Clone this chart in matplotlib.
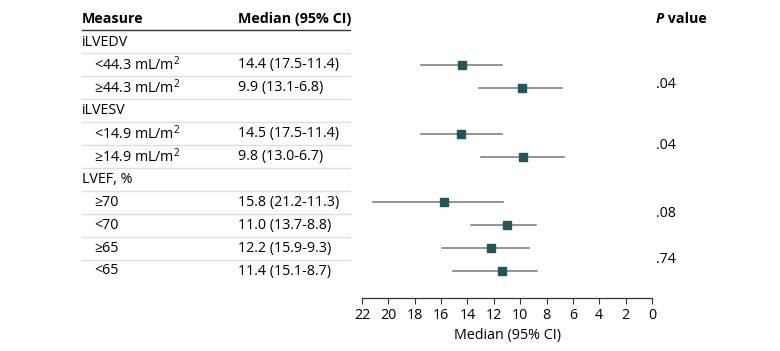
import numpy as np
import matplotlib
matplotlib.use('Agg')
import matplotlib.pyplot as plt
from matplotlib.transforms import blended_transform_factory

plt.rcParams['font.family'] = ['Open Sans', 'DejaVu Sans']
plt.rcParams['mathtext.fontset'] = 'custom'
plt.rcParams['mathtext.rm'] = 'Open Sans'

# table rows (group headers have no estimate)
labels = ['iLVEDV', '<44.3 mL/m$^2$', '\u226544.3 mL/m$^2$',
          'iLVESV', '<14.9 mL/m$^2$', '\u226514.9 mL/m$^2$',
          'LVEF, %', '\u226570', '<70', '\u226565', '<65']
is_group = [True, False, False, True, False, False, True, False, False, False, False]
median = [np.nan, 14.4, 9.9, np.nan, 14.5, 9.8, np.nan, 15.8, 11.0, 12.2, 11.4]
ci_high = [np.nan, 17.5, 13.1, np.nan, 17.5, 13.0, np.nan, 21.2, 13.7, 15.9, 15.1]
ci_low = [np.nan, 11.4, 6.8, np.nan, 11.4, 6.7, np.nan, 11.3, 8.8, 9.3, 8.7]
p_values = ['.04', '.04', '.08', '.74']
p_rows = [1.85, 4.5, 7.5, 9.5]
xticks = list(range(0, 23, 2))

W, H = 780, 351
fig = plt.figure(figsize=(W / 100, H / 100), dpi=100)
ax = fig.add_axes([362 / W, 1 - 298 / H, (652 - 362) / W, 298 / H])

step = 22.9
ax.set_ylim((298 - 42) / step, -42 / step)
ax.set_xlim(22, 0)

rows = np.arange(len(labels))
mcol = '#22575a'
for i in rows:
    if np.isnan(median[i]):
        continue
    ax.plot([ci_low[i], ci_high[i]], [i, i], color='#767676', lw=1.1, zorder=2)
    ax.plot(median[i], i, marker='s', ms=6.3, color=mcol, mec=mcol, zorder=3)

for s in ['top', 'right', 'left']:
    ax.spines[s].set_visible(False)
ax.spines['bottom'].set_color('#333333')
ax.spines['bottom'].set_linewidth(0.9)
ax.set_yticks([])
ax.set_xticks(xticks)
ax.tick_params(axis='x', length=4, width=0.8, color='#333333', labelsize=10.3, pad=3)
ax.set_xlabel('Median (95% CI)', fontsize=10.3, labelpad=4)
ax.patch.set_alpha(0)

tr = blended_transform_factory(fig.transFigure, ax.transData)
x_meas = 82 / W
x_sub = 94 / W
x_med = 238 / W
x_end = 350 / W
x_p = 656 / W
fs = 10.3

# header
ax.text(x_meas, -1, 'Measure', transform=tr, fontsize=fs, fontweight='bold', va='center', clip_on=False)
ax.text(x_med, -1, 'Median (95% CI)', transform=tr, fontsize=fs, fontweight='bold', va='center', clip_on=False)
t_p = ax.text(x_p, -1, 'P', transform=tr, fontsize=fs, fontweight='bold', fontstyle='italic',
              va='center', clip_on=False)
ax.annotate(' value', xy=(1, 0), xycoords=t_p, va='bottom', ha='left', fontsize=fs,
            fontweight='bold', annotation_clip=False)
ax.plot([x_meas, x_end], [-0.52, -0.52], transform=tr, color='#333333', lw=1, clip_on=False)

for i in rows:
    if is_group[i]:
        ax.text(x_meas, i, labels[i], transform=tr, fontsize=fs, va='center', clip_on=False)
    else:
        ax.text(x_sub, i, labels[i], transform=tr, fontsize=fs, va='center', clip_on=False)
        txt = '%.1f (%.1f-%.1f)' % (median[i], ci_high[i], ci_low[i])
        ax.text(x_med, i, txt, transform=tr, fontsize=fs, va='center', clip_on=False)
    if i < len(labels) - 1:
        ax.plot([x_meas, x_end], [i + 0.5, i + 0.5], transform=tr, color='#dddddd', lw=1, clip_on=False)

for p, r in zip(p_values, p_rows):
    ax.text(x_p, r, p, transform=tr, fontsize=fs, va='center', clip_on=False)

fig.savefig('out.png', dpi=100)
